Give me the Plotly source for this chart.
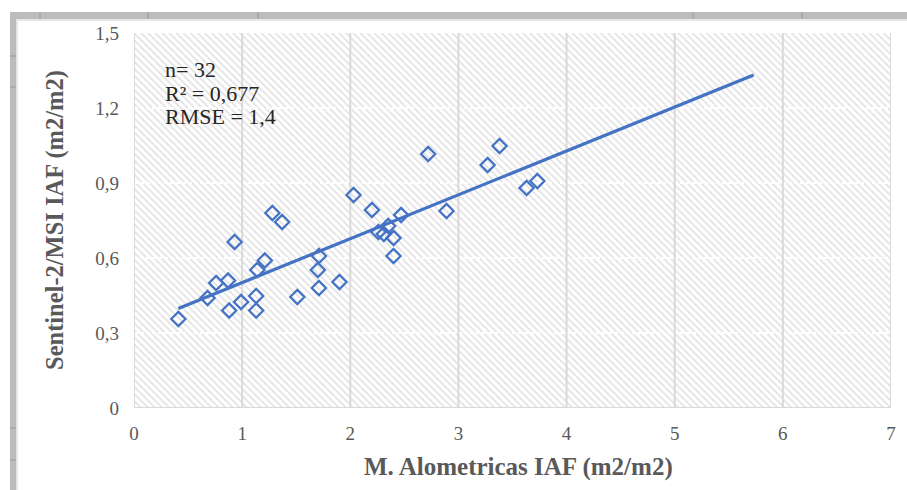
import plotly.graph_objects as go

# ---- data ----
alometricas_iaf = [0.41, 0.68, 0.76, 0.87, 0.88, 0.93, 0.99, 1.13, 1.13, 1.14,
                   1.21, 1.28, 1.37, 1.51, 1.70, 1.71, 1.71, 1.90, 2.03, 2.20,
                   2.26, 2.31, 2.35, 2.40, 2.40, 2.47, 2.72, 2.89, 3.27, 3.38,
                   3.63, 3.73]
sentinel_iaf = [0.356, 0.44, 0.50, 0.51, 0.39, 0.664, 0.424, 0.448, 0.39, 0.552,
                0.59, 0.78, 0.744, 0.444, 0.552, 0.608, 0.48, 0.504, 0.852, 0.792,
                0.704, 0.696, 0.728, 0.68, 0.608, 0.772, 1.016, 0.788, 0.972, 1.048,
                0.88, 0.908]
trend_x = [0.41, 5.73]
trend_y = [0.398, 1.332]

x_range = [0, 7]
y_range = [0, 1.5]
x_ticks = [0, 1, 2, 3, 4, 5, 6, 7]
x_tick_labels = ["0", "1", "2", "3", "4", "5", "6", "7"]
y_ticks = [0, 0.3, 0.6, 0.9, 1.2, 1.5]
y_tick_labels = ["0", "0,3", "0,6", "0,9", "1,2", "1,5"]
stats_lines = ["n= 32", "R² = 0,677", "RMSE = 1,4"]
x_title = "M. Alometricas IAF (m2/m2)"
y_title = "Sentinel-2/MSI IAF (m2/m2)"

W, H = 907, 490
BLUE = "#4472C4"
TXT = "#595959"
SERIF = "Liberation Serif"

def px(x):
    return x / W

def py(y):
    return 1 - y / H

fig = go.Figure()

# hatched plot background
fig.add_trace(go.Scatter(
    x=[x_range[0], x_range[1], x_range[1], x_range[0], x_range[0]],
    y=[y_range[0], y_range[0], y_range[1], y_range[1], y_range[0]],
    mode="lines", line=dict(width=0), fill="toself",
    fillcolor="rgba(0,0,0,0)",
    fillpattern=dict(shape="\\", fgcolor="#c8c8c8", bgcolor="white",
                     size=5, solidity=0.35),
    hoverinfo="skip", showlegend=False))

# horizontal grid (white, over the hatch)
hx, hy = [], []
for v in y_ticks[1:-1]:
    hx += [x_range[0], x_range[1], None]
    hy += [v, v, None]
fig.add_trace(go.Scatter(x=hx, y=hy, mode="lines",
                         line=dict(color="white", width=2, dash="4px,2px"),
                         hoverinfo="skip", showlegend=False))

# vertical grid (light gray)
vx, vy = [], []
for v in x_ticks:
    vx += [v, v, None]
    vy += [y_range[0], y_range[1], None]
fig.add_trace(go.Scatter(x=vx, y=vy, mode="lines",
                         line=dict(color="#d9d9d9", width=2),
                         hoverinfo="skip", showlegend=False))

# bottom axis line
fig.add_trace(go.Scatter(x=[x_range[0], x_range[1]], y=[y_range[0], y_range[0]],
                         mode="lines", line=dict(color="#d9d9d9", width=2),
                         hoverinfo="skip", showlegend=False))

# trend line
fig.add_trace(go.Scatter(x=trend_x, y=trend_y, mode="lines",
                         line=dict(color=BLUE, width=3.2),
                         hoverinfo="skip", showlegend=False))

# data points
fig.add_trace(go.Scatter(x=alometricas_iaf, y=sentinel_iaf, mode="markers",
                         marker=dict(symbol="diamond-open", size=11,
                                     color=BLUE, line=dict(color=BLUE, width=2.2)),
                         showlegend=False))

fig.update_layout(
    width=W, height=H,
    margin=dict(l=0, r=0, t=0, b=0),
    paper_bgcolor="white", plot_bgcolor="white",
    showlegend=False,
    xaxis=dict(domain=[px(134), px(891)], range=x_range, showgrid=False,
               zeroline=False, showline=False, tickvals=x_ticks,
               ticktext=x_tick_labels, ticks="", ticklabelstandoff=12,
               tickfont=dict(family=SERIF, size=19, color=TXT), automargin=False),
    yaxis=dict(domain=[py(408), py(33)], range=y_range, showgrid=False,
               zeroline=False, showline=False, tickvals=y_ticks,
               ticktext=y_tick_labels, ticks="", ticklabelstandoff=14,
               tickfont=dict(family=SERIF, size=19, color=TXT), automargin=False),
)

annotations = []
for i, line in enumerate(stats_lines):
    annotations.append(dict(xref="paper", yref="paper", x=px(163), y=py(70 + 23.5 * i),
                            xanchor="left", yanchor="middle", showarrow=False,
                            text=line, font=dict(family=SERIF, size=22, color="#262626")))
annotations.append(dict(xref="paper", yref="paper", x=px(518), y=py(467),
                        xanchor="center", yanchor="middle", showarrow=False,
                        text="<b>" + x_title + "</b>",
                        font=dict(family=SERIF, size=25, color=TXT)))
annotations.append(dict(xref="paper", yref="paper", x=px(55), y=py(220),
                        xanchor="center", yanchor="middle", showarrow=False,
                        textangle=-90, text="<b>" + y_title + "</b>",
                        font=dict(family=SERIF, size=24.5, color=TXT)))
fig.update_layout(annotations=annotations)

# spreadsheet-like frame (top and left gray bars)
shapes = [
    dict(type="rect", xref="paper", yref="paper", x0=px(10), x1=1, y0=py(19), y1=py(12),
         fillcolor="#bcbcbc", line=dict(width=0), layer="above"),
    dict(type="rect", xref="paper", yref="paper", x0=px(10), x1=1, y0=py(21), y1=py(19),
         fillcolor="#e6e6e6", line=dict(width=0), layer="above"),
    dict(type="rect", xref="paper", yref="paper", x0=px(10), x1=px(16), y0=0, y1=py(12),
         fillcolor="#bcbcbc", line=dict(width=0), layer="above"),
    dict(type="rect", xref="paper", yref="paper", x0=px(16), x1=px(18), y0=0, y1=py(19),
         fillcolor="#e6e6e6", line=dict(width=0), layer="above"),
]
for xm in [40, 148, 258, 693, 802]:
    shapes.append(dict(type="line", xref="paper", yref="paper", x0=px(xm), x1=px(xm),
                       y0=py(19), y1=py(12), line=dict(color="#9a9a9a", width=1)))
for ym in [56, 87, 428, 460]:
    shapes.append(dict(type="line", xref="paper", yref="paper", x0=px(10), x1=px(16),
                       y0=py(ym), y1=py(ym), line=dict(color="#9a9a9a", width=1)))
fig.update_layout(shapes=shapes)

fig.write_html("out.html", config={"displayModeBar": False},
               post_script="document.body.style.margin='0';document.body.style.overflow='hidden';")
